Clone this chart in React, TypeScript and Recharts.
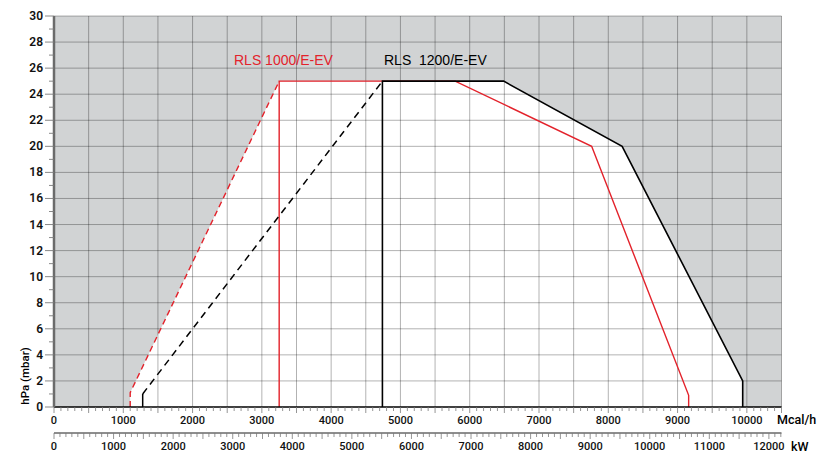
import { ComposedChart, Area, Line, XAxis, YAxis, CartesianGrid } from "recharts";

// Axis labels
const MCAL_LABELS = [0, 1000, 2000, 3000, 4000, 5000, 6000, 7000, 8000, 9000, 10000];
const KW_LABELS = [0, 1000, 2000, 3000, 4000, 5000, 6000, 7000, 8000, 9000, 10000, 11000, 12000];
const PRESSURE_LABELS = [0, 2, 4, 6, 8, 10, 12, 14, 16, 18, 20, 22, 24, 26, 28, 30];

const MCAL_MAX = 10500;
const KW_PER_MCAL = 1.163;

// RLS 1000/E-EV (red)
const redDashX = [1100, 1100, 3250];
const redDashY = [0, 1.1, 25];
const redX = [3250, 3250, 5790, 7760, 9160, 9160];
const redY = [0, 25, 25, 20, 0.9, 0];

// RLS 1200/E-EV (black)
const blackDashX = [1280, 4740];
const blackDashY = [1, 25];
const blackStubX = [1280, 1280];
const blackStubY = [0, 1];
const blackX = [4740, 4740, 6490, 8200, 9940, 9940];
const blackY = [0, 25, 25, 20, 2, 0];

// working field of both burners (white area)
const fieldX = [1100, 3250, 6490, 8200, 9940];
const fieldY = [1.1, 25, 25, 20, 2];

const zip = (xs: number[], ys: number[]) =>
    xs.map((x, i) => ({ x, kw: x * KW_PER_MCAL, y: ys[i] }));

const steps = (max: number, step: number) =>
    Array.from({ length: Math.floor(max / step) + 1 }, (_, i) => i * step);

const RED = "#e3222b";
const FONT = "Roboto, 'Liberation Sans', Arial, sans-serif";

const BottomTick = (props: any) => {
    const { x, y, payload, labels } = props;
    const v = Math.round(payload.value);
    const major = v % 500 === 0;
    return (
        <g>
            <line x1={x} x2={x} y1={y} y2={y + (major ? 6 : 4)} stroke="#7a7a7a" strokeWidth={0.8} />
            {labels.includes(v) && (
                <text
                    x={x}
                    y={y + 13.5}
                    textAnchor="middle"
                    dominantBaseline="central"
                    fontFamily={FONT}
                    fontWeight={500}
                    fontSize={11}
                    fill="#111"
                >
                    {v}
                </text>
            )}
        </g>
    );
};

const LeftTick = (props: any) => {
    const { x, y, payload } = props;
    const v = payload.value;
    const major = PRESSURE_LABELS.includes(v);
    return (
        <g>
            <line x1={x - (major ? 9 : 5)} x2={x} y1={y} y2={y} stroke="#7a7a7a" strokeWidth={0.9} />
            {major && (
                <text
                    x={x - 11}
                    y={y}
                    textAnchor="end"
                    dominantBaseline="central"
                    fontFamily={FONT}
                    fontWeight={600}
                    fontSize={12}
                    fill="#111"
                >
                    {v}
                </text>
            )}
        </g>
    );
};

const overlayText = {
    position: "absolute" as const,
    whiteSpace: "pre" as const,
    lineHeight: 1,
};

export default function App() {
    return (
        <div style={{ position: "relative", width: 819, height: 460 }}>
            <style>{`body{margin:0}`}</style>
            <ComposedChart
                width={819}
                height={460}
                margin={{ top: 16, right: 37.5, left: 10, bottom: 0 }}
            >
                <CartesianGrid fill="#d1d3d4" horizontal={false} vertical={false} stroke="none" />
                <XAxis
                    dataKey="x"
                    type="number"
                    domain={[0, MCAL_MAX]}
                    ticks={steps(MCAL_MAX, 100)}
                    interval={0}
                    height={26}
                    tickSize={0}
                    tickMargin={0}
                    tickLine={false}
                    axisLine={{ stroke: "#000", strokeWidth: 1.6 }}
                    tick={<BottomTick labels={MCAL_LABELS} />}
                />
                <XAxis
                    xAxisId="kw"
                    dataKey="kw"
                    type="number"
                    domain={[0, MCAL_MAX * KW_PER_MCAL]}
                    allowDataOverflow
                    ticks={steps(MCAL_MAX * KW_PER_MCAL, 100)}
                    interval={0}
                    height={27}
                    tickSize={0}
                    tickMargin={0}
                    tickLine={false}
                    axisLine={{ stroke: "#8e8e8e", strokeWidth: 2.2 }}
                    tick={<BottomTick labels={KW_LABELS} />}
                />
                <YAxis
                    type="number"
                    domain={[0, 30]}
                    ticks={steps(30, 1)}
                    interval={0}
                    width={44}
                    tickSize={0}
                    tickMargin={0}
                    tickLine={false}
                    axisLine={{ stroke: "#6b6b6b", strokeWidth: 2.5 }}
                    tick={<LeftTick />}
                />
                <Area
                    xAxisId="kw"
                    data={zip(fieldX, fieldY)}
                    dataKey="y"
                    type="linear"
                    fill="#ffffff"
                    fillOpacity={1}
                    stroke="none"
                    isAnimationActive={false}
                />
                <CartesianGrid
                    stroke="#000"
                    strokeOpacity={0.3}
                    horizontalValues={PRESSURE_LABELS.slice(1)}
                    verticalValues={steps(MCAL_MAX, 500).slice(1)}
                    zIndex={150}
                />
                <Line
                    data={zip(redDashX, redDashY)}
                    dataKey="y"
                    type="linear"
                    stroke={RED}
                    strokeWidth={1.4}
                    strokeDasharray="6 4"
                    dot={false}
                    activeDot={false}
                    isAnimationActive={false}
                />
                <Line
                    data={zip(redX, redY)}
                    dataKey="y"
                    type="linear"
                    stroke={RED}
                    strokeWidth={1.4}
                    dot={false}
                    activeDot={false}
                    isAnimationActive={false}
                />
                <Line
                    data={zip(blackDashX, blackDashY)}
                    dataKey="y"
                    type="linear"
                    stroke="#000"
                    strokeWidth={1.5}
                    strokeDasharray="7 5"
                    dot={false}
                    activeDot={false}
                    isAnimationActive={false}
                />
                <Line
                    data={zip(blackStubX, blackStubY)}
                    dataKey="y"
                    type="linear"
                    stroke="#000"
                    strokeWidth={1.5}
                    dot={false}
                    activeDot={false}
                    isAnimationActive={false}
                />
                <Line
                    data={zip(blackX, blackY)}
                    dataKey="y"
                    type="linear"
                    stroke="#000"
                    strokeWidth={1.6}
                    dot={false}
                    activeDot={false}
                    isAnimationActive={false}
                />
            </ComposedChart>
            <div style={{ ...overlayText, left: 234, top: 53, color: RED, fontFamily: "'Liberation Sans', Arial", fontSize: 14 }}>
                RLS 1000/E-EV
            </div>
            <div style={{ ...overlayText, left: 384, top: 53, color: "#000", fontFamily: "'Liberation Sans', Arial", fontSize: 14 }}>
                {"RLS  1200/E-EV"}
            </div>
            <div
                style={{
                    ...overlayText,
                    left: 26,
                    top: 376,
                    transform: "translate(-50%, -50%) rotate(-90deg)",
                    fontFamily: FONT,
                    fontWeight: 500,
                    fontSize: 11.5,
                }}
            >
                hPa (mbar)
            </div>
            <div style={{ ...overlayText, left: 777, top: 414, fontFamily: FONT, fontWeight: 500, fontSize: 12.5 }}>
                Mcal/h
            </div>
            <div style={{ ...overlayText, left: 791, top: 441, fontFamily: FONT, fontWeight: 500, fontSize: 12.5 }}>
                kW
            </div>
        </div>
    );
}
